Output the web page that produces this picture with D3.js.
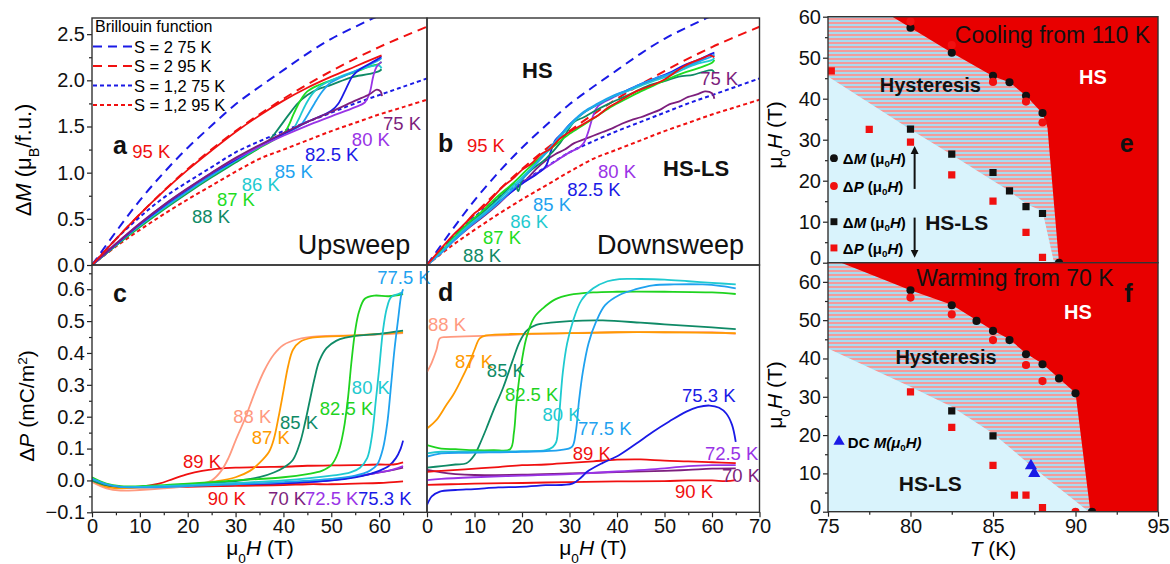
<!DOCTYPE html>
<html lang="en">
<head>
<meta charset="UTF-8">
<title>Spin-state crossover: magnetisation, polarisation and phase diagram</title>
<script src="https://d3js.org/d3.v7.min.js"></script>
<style>
  body { margin: 0; background: #fff; }
  svg { font-family: Arial, "Liberation Sans", sans-serif; }
  .axis line { stroke: #222; stroke-width: 1.2; }
  .axis text { font-size: 20px; fill: #111; }
</style>
</head>
<body>
<svg width="1170" height="564"></svg>
<script>
// ---------- panel a : upsweep dM (field T, muB/f.u.) ----------
var upM75  = [[0,0],[5,0.23],[10,0.45],[15,0.65],[20,0.83],[25,1.00],[30,1.16],[35,1.30],[40,1.43],[45,1.55],[50,1.66],[55,1.78],[58,1.85],[59.5,1.90],[60.3,1.88],[60.6,1.83]];
var upM80  = [[0,0],[5,0.23],[10,0.45],[15,0.65],[20,0.83],[25,1.00],[30,1.15],[35,1.28],[40,1.40],[45,1.51],[50,1.61],[55,1.71],[57,1.76],[58,1.86],[58.8,2.05],[59.5,2.15],[60.5,2.20]];
var upM825 = [[0,0],[5,0.22],[10,0.44],[15,0.64],[20,0.82],[25,0.99],[30,1.14],[35,1.29],[40,1.42],[45,1.55],[50,1.67],[51.5,1.75],[53,1.90],[54.5,2.05],[56,2.12],[58,2.18],[60,2.24],[60.5,2.26]];
var upM85  = [[0,0],[5,0.22],[10,0.43],[15,0.62],[20,0.80],[25,0.97],[30,1.13],[35,1.28],[40,1.42],[43.5,1.51],[45,1.62],[46.5,1.75],[48,1.87],[49.5,1.96],[52,2.03],[55,2.10],[58,2.17],[60,2.22],[60.5,2.24]];
var upM86  = [[0,0],[5,0.22],[10,0.43],[15,0.62],[20,0.80],[25,0.97],[30,1.13],[35,1.28],[40,1.42],[42,1.47],[43,1.56],[44,1.67],[45,1.77],[46,1.85],[47.5,1.93],[50,2.00],[55,2.10],[60,2.16],[60.5,2.13]];
var upM87  = [[0,0],[5,0.21],[10,0.42],[15,0.61],[20,0.79],[25,0.96],[30,1.12],[35,1.27],[40,1.42],[41,1.50],[42,1.62],[43,1.73],[44,1.82],[45,1.88],[47,1.94],[50,2.00],[55,2.09],[58,2.15],[60,2.18],[60.5,2.20]];
var upM88  = [[0,0],[5,0.21],[10,0.41],[15,0.60],[20,0.78],[25,0.95],[30,1.11],[35,1.27],[37,1.35],[39,1.48],[41,1.62],[43,1.75],[45,1.84],[47,1.90],[50,1.95],[54,2.03],[58,2.07],[60,2.10],[60.5,2.12]];
var upM95  = [[0,0],[5,0.28],[10,0.55],[15,0.80],[20,1.03],[25,1.24],[30,1.44],[35,1.62],[40,1.78],[45,1.92],[50,2.04],[55,2.15],[60,2.26],[60.5,2.27]];

// ---------- panel b : downsweep dM ----------
var dnM75  = [[0,0],[3,0.14],[6,0.28],[9,0.41],[12,0.53],[15,0.66],[17,0.76],[19,0.85],[21,0.93],[23,1.04],[25,1.13],[27,1.20],[29,1.25],[31,1.32],[33,1.36],[35,1.40],[37,1.44],[39,1.48],[41,1.53],[43,1.57],[45,1.60],[47,1.64],[49,1.68],[51,1.74],[53,1.77],[55,1.82],[57,1.85],[58.5,1.88],[60,1.86],[60.5,1.80]];
var dnM80  = [[0,0],[3,0.14],[6,0.28],[9,0.42],[12,0.55],[15,0.67],[18,0.80],[21,0.92],[24,1.02],[27,1.12],[30,1.22],[32,1.27],[33,1.32],[34,1.45],[35,1.62],[36,1.72],[39,1.81],[42,1.88],[45,1.95],[48,2.01],[51,2.07],[54,2.14],[57,2.20],[59.5,2.27],[60.5,2.26]];
var dnM825 = [[0,0],[2,0.10],[5,0.24],[8,0.39],[11,0.52],[14,0.64],[17,0.76],[20,0.88],[23,0.98],[25,1.07],[26,1.22],[27,1.35],[28.5,1.43],[30,1.52],[33,1.65],[36,1.74],[39,1.82],[42,1.89],[45,1.96],[48,2.02],[51,2.08],[54,2.16],[57,2.22],[60,2.29],[60.5,2.30]];
var dnM85  = [[0,0],[3,0.13],[6,0.28],[9,0.42],[12,0.54],[15,0.67],[18,0.82],[21,0.98],[24,1.16],[27,1.34],[30,1.52],[33,1.66],[36,1.75],[39,1.83],[42,1.89],[45,1.96],[48,2.02],[51,2.07],[54,2.14],[57,2.20],[60,2.26],[60.5,2.28]];
var dnM86  = [[0,0],[3,0.14],[6,0.30],[9,0.44],[12,0.56],[15,0.70],[18,0.85],[21,1.00],[24,1.15],[27,1.32],[30,1.50],[33,1.65],[36,1.74],[39,1.82],[42,1.88],[45,1.94],[48,2.00],[51,2.05],[54,2.12],[57,2.18],[60,2.22],[60.5,2.24]];
var dnM87  = [[0,0],[3,0.15],[6,0.32],[9,0.47],[12,0.60],[15,0.75],[18,0.88],[21,1.03],[24,1.17],[27,1.30],[30,1.42],[33,1.52],[36,1.62],[39,1.72],[42,1.80],[45,1.88],[48,1.95],[51,2.02],[54,2.08],[57,2.13],[60,2.19],[60.5,2.22]];
var dnM88  = [[0,0],[3,0.14],[6,0.30],[9,0.45],[12,0.58],[15,0.72],[17,0.82],[18.5,0.88],[19.2,0.80],[20,0.92],[22,1.03],[25,1.15],[28,1.32],[31,1.55],[33,1.60],[35,1.66],[38,1.74],[41,1.81],[44,1.88],[47,1.95],[50,1.99],[53,2.04],[56,2.06],[58,2.09],[60,2.11],[60.5,2.08]];
var dnM95  = [[0,0],[2,0.12],[4,0.24],[6,0.35],[8,0.45],[10,0.56],[12,0.63],[14,0.74],[16,0.85],[18,0.93],[20,1.03],[22,1.10],[24,1.20],[26,1.26],[28,1.37],[30,1.44],[32,1.50],[34,1.56],[36,1.62],[38,1.70],[40,1.76],[42,1.82],[44,1.88],[46,1.92],[48,1.96],[50,2.01],[52,2.08],[54,2.15],[56,2.20],[58,2.24],[59.5,2.27],[60.5,2.25]];

// ---------- Brillouin curves ----------
var brS2at75  = [[0,0],[5,0.36],[10,0.70],[15,1.00],[20,1.27],[25,1.51],[30,1.74],[35,1.93],[40,2.11],[45,2.29],[50,2.45],[55,2.58],[60,2.70],[65,2.80]];
var brS2at95  = [[0,0],[10,0.55],[20,1.04],[30,1.45],[40,1.80],[50,2.10],[60,2.36],[70,2.58]];
var brS12at75 = [[0,0],[5,0.28],[10,0.52],[15,0.73],[20,0.90],[25,1.06],[30,1.22],[35,1.34],[40,1.45],[45,1.55],[50,1.65],[55,1.75],[60,1.84],[65,1.93],[70,2.02]];
var brS12at95 = [[0,0],[5,0.20],[10,0.38],[15,0.55],[20,0.71],[25,0.86],[30,1.01],[35,1.15],[40,1.25],[45,1.35],[50,1.45],[55,1.54],[60,1.63],[65,1.71],[70,1.79]];

// ---------- panel c : upsweep dP (mC/m2) ----------
var upP70  = [[0,0],[3,-0.015],[6,-0.02],[10,-0.02],[20,-0.018],[30,-0.014],[40,-0.008],[50,0.002],[55,0.012],[60,0.025],[63,0.033],[65,0.04]];
var upP725 = [[0,0],[3,-0.015],[6,-0.02],[10,-0.02],[20,-0.018],[30,-0.015],[40,-0.01],[50,0],[55,0.012],[60,0.025],[63,0.035],[65,0.045]];
var upP753 = [[0,0],[3,-0.015],[6,-0.02],[10,-0.02],[20,-0.018],[30,-0.015],[40,-0.01],[50,0],[55,0.01],[58,0.02],[60,0.03],[62,0.045],[63.5,0.07],[64.5,0.10],[65,0.125]];
var upP775 = [[0,0.005],[3,-0.012],[6,-0.02],[10,-0.022],[20,-0.018],[30,-0.012],[40,-0.005],[50,0.005],[55,0.015],[58,0.03],[59.6,0.05],[60.8,0.10],[61.7,0.18],[62.5,0.30],[63.2,0.41],[64,0.51],[64.6,0.58],[65,0.60]];
var upP80  = [[0,0.005],[3,-0.012],[6,-0.02],[10,-0.02],[20,-0.015],[30,-0.008],[40,0],[50,0.015],[54,0.025],[56,0.04],[57.5,0.07],[58.5,0.14],[59.3,0.25],[60,0.35],[60.8,0.47],[61.6,0.54],[62.5,0.575],[64,0.585],[65,0.59]];
var upP825 = [[0,0.01],[3,-0.01],[6,-0.018],[10,-0.018],[15,-0.015],[20,-0.01],[30,0],[40,0.01],[45,0.02],[48,0.03],[50,0.048],[51.5,0.09],[52.6,0.16],[53.5,0.26],[54.2,0.37],[55,0.47],[55.8,0.53],[57,0.57],[59,0.58],[62,0.578],[65,0.585]];
var upP85  = [[0,0],[3,-0.015],[6,-0.02],[10,-0.02],[15,-0.018],[20,-0.012],[25,-0.008],[30,-0.002],[35,0.01],[38,0.025],[40,0.04],[42,0.065],[43.5,0.12],[44.5,0.18],[45.5,0.25],[46.5,0.32],[47.5,0.375],[49,0.415],[51,0.438],[53,0.448],[56,0.455],[60,0.46],[65,0.47]];
var upP87  = [[0,0],[3,-0.02],[6,-0.025],[10,-0.022],[15,-0.02],[20,-0.015],[25,-0.005],[30,0.01],[33,0.03],[35,0.055],[37,0.09],[38,0.13],[39,0.20],[40,0.28],[41,0.36],[42,0.41],[43.5,0.435],[46,0.448],[50,0.452],[55,0.455],[60,0.46],[65,0.465]];
var upP88  = [[0,-0.005],[3,-0.025],[6,-0.032],[10,-0.03],[15,-0.025],[20,-0.018],[23,-0.01],[25,0],[27,0.03],[28.5,0.07],[30,0.125],[32,0.195],[34,0.275],[36,0.345],[38,0.395],[40,0.425],[43,0.443],[47,0.452],[55,0.455],[60,0.458],[65,0.462]];
var upP89  = [[0,0],[3,-0.015],[6,-0.022],[10,-0.02],[14,-0.01],[17,0.005],[20,0.02],[23,0.03],[26,0.036],[30,0.04],[35,0.042],[40,0.043],[45,0.046],[50,0.047],[55,0.048],[60,0.05],[63,0.05],[65,0.057]];
var upP90  = [[0,0],[2,-0.01],[5,-0.02],[10,-0.022],[20,-0.02],[30,-0.017],[40,-0.015],[45,-0.012],[50,-0.012],[55,-0.01],[60,-0.008],[63,-0.005],[65,-0.003]];

// ---------- panel d : downsweep dP ----------
var dnP70  = [[0,0.033],[3,0.025],[6,0.02],[10,0.017],[20,0.018],[30,0.022],[40,0.026],[50,0.03],[55,0.033],[60,0.037],[65,0.038]];
var dnP725 = [[0,0.001],[3,0.005],[10,0.01],[20,0.015],[30,0.02],[40,0.028],[50,0.038],[55,0.045],[60,0.048],[65,0.048]];
var dnP753 = [[0,-0.077],[1,-0.05],[2.7,-0.035],[6,-0.03],[10,-0.027],[15,-0.022],[19.5,-0.02],[25,-0.015],[30.6,-0.01],[32.5,0.01],[33.7,0.027],[37,0.055],[40.5,0.08],[44,0.115],[47.6,0.153],[51,0.185],[54.6,0.216],[57,0.23],[59.5,0.235],[61.5,0.228],[63,0.21],[64.2,0.175],[65,0.121]];
var dnP775 = [[0,0.075],[3,0.085],[10,0.087],[20,0.09],[28,0.095],[30.5,0.105],[31.3,0.15],[32,0.25],[32.8,0.34],[34,0.43],[35.6,0.498],[37.5,0.55],[40.5,0.582],[44,0.60],[47.6,0.612],[52,0.615],[58,0.615],[62,0.61],[65,0.603]];
var dnP80  = [[0,0.085],[3,0.09],[10,0.09],[20,0.092],[25,0.095],[26.5,0.105],[27.2,0.12],[27.8,0.20],[28.6,0.34],[29.5,0.43],[30.7,0.498],[32.5,0.565],[35,0.603],[38,0.625],[40.5,0.632],[45,0.632],[50,0.63],[55,0.625],[60,0.62],[65,0.615]];
var dnP825 = [[0,0.111],[3,0.10],[6,0.098],[10,0.095],[14,0.095],[17.5,0.098],[18.3,0.15],[18.8,0.237],[19.6,0.34],[20.9,0.446],[22.5,0.51],[24.4,0.54],[27,0.568],[30,0.582],[35,0.59],[40,0.592],[50,0.592],[60,0.59],[65,0.585]];
var dnP85  = [[0,0.04],[3,0.045],[6,0.05],[8.3,0.054],[10,0.08],[11,0.11],[12.5,0.163],[14,0.22],[16,0.29],[18,0.375],[19.5,0.435],[21,0.47],[23,0.488],[26,0.495],[30,0.50],[37,0.502],[45,0.495],[50,0.49],[55,0.485],[60,0.48],[65,0.475]];
var dnP87  = [[0,0.163],[2,0.19],[4,0.235],[5.5,0.268],[7,0.31],[9,0.373],[10,0.41],[11.1,0.446],[12.5,0.455],[20,0.46],[30,0.462],[40,0.465],[50,0.465],[65,0.462]];
var dnP88  = [[0,0.34],[1,0.37],[2,0.41],[2.7,0.446],[4,0.45],[8,0.452],[15,0.455],[20,0.458],[30,0.462],[40,0.465],[50,0.465],[60,0.465],[65,0.46]];
var dnP89  = [[0,0.027],[3,0.03],[8,0.035],[15,0.042],[20,0.048],[25,0.05],[30,0.055],[35,0.06],[40,0.065],[45,0.066],[50,0.062],[55,0.06],[60,0.057],[65,0.054]];
var dnP90  = [[0,-0.014],[5,-0.012],[10,-0.01],[20,-0.008],[30,-0.005],[40,-0.003],[50,-0.002],[55,0],[60,0],[63,-0.002],[65,0.001]];

// ---------- panels e, f : phase diagram (T in K, field in T) ----------
var coolUpM   = [[80,57.3],[82.5,51.2],[85,45.6],[86,44],[87,40.7],[88,36.5],[89,0]];
var coolUpP   = [[80,58.8],[82.5,53.1],[85,44.1],[87,39.3],[88,34.2]];
var coolDownM = [[80,32.6],[82.5,26.5],[85,22],[86,17.5],[87,13.7],[88,12]];
var coolDownP = [[75.2,46.8],[77.5,32.5],[80,29.4],[82.5,21.4],[85,15],[87,7.4],[88,1.3]];
var coolHsEdge = [[78.9,60],[80,57.3],[82.5,51.2],[85,45.5],[86,44],[87,40.7],[88,36.4],[88.3,33],[89,0]];
var coolLsEdge = [[75,45.4],[80,32.5],[82.5,26.3],[85,20],[86,17.5],[87,14.3],[88,12.6],[88.7,0]];

var warmUpM   = [[80,57.8],[82.5,53.9],[84,49.8],[85,47.2],[86,44.8],[87,41.1],[88,38.5],[89,34.8],[90,30.9],[91,0]];
var warmUpP   = [[80,55.9],[82.5,51.5],[85,44.8],[87,38.3],[88,34.1],[90,0]];
var warmDownM = [[82.5,26.3],[85,19.8]];
var warmDownP = [[80,31.3],[82.5,22],[85,12.1],[86.3,4.3],[87,4.3],[88,1.1]];
var warmDC    = [[87.3,12],[87.5,10]];
var warmHsEdge = [[75.8,65],[80,57.8],[82.5,54],[84,50],[85,47.3],[86,45],[87,41.3],[88,38.6],[89,34.8],[90,31],[90.9,0]];
var warmLsEdge = [[75,42.6],[80,32.6],[82.5,27.4],[85,20.4],[87.4,11.7],[90.8,0]];

var fieldTicks = [0, 10, 20, 30, 40, 50, 60, 70];
var tempTicks  = [75, 80, 85, 90, 95];

// colours per temperature ("a" suffix = magnetisation panels)
var col = {
  "70": "#7d1f7d", "72.5": "#9933e6", "75": "#7d1f7d", "75.3": "#1a1ae6", "77.5": "#1fa2ef",
  "80a": "#9933e6", "80": "#1fcad0", "82.5a": "#1a1ae6", "82.5": "#1fd31f", "85a": "#1fa2ef",
  "85": "#0f8a66", "86": "#1fcad0", "87a": "#1fdc1f", "87": "#ff9a00", "88a": "#0f8a66",
  "88": "#ff9a80", "89": "#f01010", "90": "#f01010", "95": "#f01010"
};

var svg = d3.select("svg");
var defs = svg.append("defs");

var hatch = defs.append("pattern").attr("id", "hatch")
  .attr("patternUnits", "userSpaceOnUse").attr("width", 8).attr("height", 4);
hatch.append("rect").attr("width", 8).attr("height", 4).attr("fill", "#f39b9b");
hatch.append("rect").attr("width", 8).attr("height", 2).attr("fill", "#a9dcf0");

function panel(id, x0, x1, y0, y1, xd, yd) {
  var x = d3.scaleLinear().domain(xd).range([x0, x1]);
  var y = d3.scaleLinear().domain(yd).range([y1, y0]);
  defs.append("clipPath").attr("id", "clip-" + id)
    .append("rect").attr("x", x0).attr("y", y0).attr("width", x1 - x0).attr("height", y1 - y0);
  var g = svg.append("g").attr("clip-path", "url(#clip-" + id + ")");
  return { x: x, y: y, g: g, x0: x0, x1: x1, y0: y0, y1: y1 };
}

function curve(p, data, colour, width, dash) {
  var line = d3.line().x(function (d) { return p.x(d[0]); }).y(function (d) { return p.y(d[1]); })
    .curve(d3.curveCatmullRom.alpha(0.5));
  p.g.append("path").datum(data).attr("d", line)
    .attr("fill", "none").attr("stroke", colour).attr("stroke-width", width || 1.8)
    .attr("stroke-dasharray", dash || null).attr("stroke-linejoin", "round");
}

function ticks(p, side, values, size, fmt) {
  var ax = side === "left" ? d3.axisLeft(p.y) : d3.axisBottom(p.x);
  ax.tickValues(values).tickSize(size).tickPadding(2).tickFormat(fmt || function () { return ""; });
  var g = svg.append("g").attr("class", "axis")
    .attr("transform", side === "left" ? "translate(" + p.x0 + ",0)" : "translate(0," + p.y1 + ")")
    .call(ax);
  g.select(".domain").remove();
  return g;
}

function frame(p) {
  svg.append("rect").attr("x", p.x0).attr("y", p.y0).attr("width", p.x1 - p.x0).attr("height", p.y1 - p.y0)
    .attr("fill", "none").attr("stroke", "#333").attr("stroke-width", 1.4);
}

// rich text: parts = [[text, kind]] with kind "", "i", "sub", "sup"
function rich(sel, parts) {
  parts.forEach(function (pt) {
    var t = sel.append("tspan").text(pt[0]);
    if (pt[1] === "i") t.attr("font-style", "italic");
    if (pt[1] === "sub") t.attr("baseline-shift", "sub").attr("font-size", "65%");
    if (pt[1] === "sup") t.attr("baseline-shift", "super").attr("font-size", "65%");
  });
  return sel;
}

function label(p, pos, txt, colour, size, weight, anchor) {
  return svg.append("text").attr("x", p.x(pos[0])).attr("y", p.y(pos[1]))
    .attr("dominant-baseline", "central").attr("text-anchor", anchor || "start")
    .attr("font-size", size || 18.5).attr("font-weight", weight || "normal")
    .attr("fill", colour || "#111").text(txt);
}

var fmt1 = d3.format(".1f");
var minorM = d3.range(0.25, 2.6, 0.5);
var minorP = d3.range(-0.05, 0.66, 0.1);
var minorH = d3.range(5, 70, 10);

// ================= panel a =================
var A = panel("a", 92, 427, 18, 265, [0, 70], [0, 2.675]);
curve(A, brS2at75, "#1a1ae6", 2, "9,6");
curve(A, brS2at95, "#f01010", 2, "9,6");
curve(A, brS12at75, "#1a1ae6", 2, "4,3");
curve(A, brS12at95, "#f01010", 2, "4,3");
[[upM88, "88a"], [upM87, "87a"], [upM86, "86"], [upM85, "85a"], [upM825, "82.5a"], [upM80, "80a"], [upM75, "75"], [upM95, "95"]]
  .forEach(function (c) { curve(A, c[0], col[c[1]]); });
ticks(A, "left", d3.range(0, 2.51, 0.5), 5, fmt1);
ticks(A, "left", minorM, 3);
frame(A);

// legend
var legRows = [["S = 2 75 K", "#1a1ae6", "9,6"], ["S = 2 95 K", "#f01010", "9,6"], ["S = 1,2 75 K", "#1a1ae6", "4,3"], ["S = 1,2 95 K", "#f01010", "4,3"]];
svg.append("text").attr("x", 95).attr("y", 26).attr("dominant-baseline", "central").attr("font-size", 16).text("Brillouin function");
legRows.forEach(function (r, i) {
  var yy = 46.5 + i * 19.5;
  svg.append("line").attr("x1", 93).attr("x2", 132).attr("y1", yy).attr("y2", yy)
    .attr("stroke", r[1]).attr("stroke-width", 2).attr("stroke-dasharray", r[2]);
  svg.append("text").attr("x", 134).attr("y", yy).attr("dominant-baseline", "central").attr("font-size", 16.5).text(r[0]);
});

label(A, [4.4, 1.30], "a", "#111", 25, "bold");
label(A, [8.4, 1.224], "95 K", col["95"]);
label(A, [60.8, 1.528], "75 K", col["75"]);
label(A, [54.3, 1.354], "80 K", col["80a"]);
label(A, [44.5, 1.192], "82.5 K", col["82.5a"]);
label(A, [38.2, 1.008], "85 K", col["85a"]);
label(A, [31.3, 0.867], "86 K", col["86"]);
label(A, [26.1, 0.704], "87 K", col["87a"]);
label(A, [20.9, 0.52], "88 K", col["88a"]);
label(A, [43, 0.217], "Upsweep", "#111", 27);

// ================= panel b =================
var B = panel("b", 427, 759.5, 18, 265, [0, 70], [0, 2.675]);
curve(B, brS2at75, "#1a1ae6", 2, "9,6");
curve(B, brS2at95, "#f01010", 2, "9,6");
curve(B, brS12at75, "#1a1ae6", 2, "4,3");
curve(B, brS12at95, "#f01010", 2, "4,3");
[[dnM75, "75"], [dnM80, "80a"], [dnM825, "82.5a"], [dnM88, "88a"], [dnM87, "87a"], [dnM86, "86"], [dnM85, "85a"], [dnM95, "95"]]
  .forEach(function (c) { curve(B, c[0], col[c[1]]); });
frame(B);
label(B, [2.3, 1.32], "b", "#111", 25, "bold");
label(B, [8.4, 1.29], "95 K", col["95"]);
label(B, [57.5, 2.015], "75 K", col["75"]);
label(B, [36, 1.008], "80 K", col["80a"]);
label(B, [29.5, 0.813], "82.5 K", col["82.5a"]);
label(B, [22.3, 0.65], "85 K", col["85a"]);
label(B, [17.5, 0.466], "86 K", col["86"]);
label(B, [11.8, 0.293], "87 K", col["87a"]);
label(B, [7.6, 0.108], "88 K", col["88a"]);
label(B, [20, 2.11], "HS", "#111", 22, "bold");
label(B, [49.7, 1.05], "HS-LS", "#111", 22, "bold");
label(B, [35.8, 0.217], "Downsweep", "#111", 27);

// ================= panel c =================
var C = panel("c", 92, 427, 265, 512.3, [0, 70], [-0.1, 0.676]);
[[upP70, "70"], [upP725, "72.5"], [upP753, "75.3"], [upP90, "90"], [upP89, "89"], [upP88, "88"], [upP87, "87"], [upP85, "85"], [upP825, "82.5"], [upP80, "80"], [upP775, "77.5"]]
  .forEach(function (c) { curve(C, c[0], col[c[1]]); });
ticks(C, "left", d3.range(-0.1, 0.61, 0.1).map(function (v) { return +v.toFixed(2); }), 5, fmt1);
ticks(C, "left", minorP, 3);
ticks(C, "bottom", fieldTicks.slice(0, 7), 5, d3.format("d"));
ticks(C, "bottom", minorH, 3);
frame(C);
label(C, [4.4, 0.588], "c", "#111", 25, "bold");
label(C, [59.6, 0.638], "77.5 K", col["77.5"]);
label(C, [54.3, 0.293], "80 K", col["80"]);
label(C, [47.6, 0.227], "82.5 K", col["82.5"]);
label(C, [39.3, 0.183], "85 K", col["85"]);
label(C, [29.5, 0.202], "88 K", col["88"]);
label(C, [33.4, 0.136], "87 K", col["87"]);
label(C, [19, 0.058], "89 K", col["89"]);
label(C, [24.2, -0.058], "90 K", col["90"]);
label(C, [36.8, -0.058], "70 K", col["70"]);
label(C, [44.5, -0.058], "72.5 K", col["72.5"]);
label(C, [55.6, -0.058], "75.3 K", col["75.3"]);

// ================= panel d =================
var D = panel("d", 427, 759.5, 265, 512.3, [0, 70], [-0.1, 0.676]);
[[dnP70, "70"], [dnP725, "72.5"], [dnP90, "90"], [dnP89, "89"], [dnP753, "75.3"], [dnP88, "88"], [dnP87, "87"], [dnP85, "85"], [dnP825, "82.5"], [dnP80, "80"], [dnP775, "77.5"]]
  .forEach(function (c) { curve(D, c[0], col[c[1]]); });
ticks(D, "bottom", fieldTicks, 5, d3.format("d"));
ticks(D, "bottom", minorH, 3);
frame(D);
label(D, [2.3, 0.59], "d", "#111", 25, "bold");
label(D, [0.2, 0.488], "88 K", col["88"]);
label(D, [5.9, 0.372], "87 K", col["87"]);
label(D, [12.6, 0.345], "85 K", col["85"]);
label(D, [16.4, 0.27], "82.5 K", col["82.5"]);
label(D, [24.3, 0.208], "80 K", col["80"]);
label(D, [31.8, 0.163], "77.5 K", col["77.5"]);
label(D, [53.7, 0.268], "75.3 K", col["75.3"]);
label(D, [30.7, 0.086], "89 K", col["89"]);
label(D, [58.5, 0.086], "72.5 K", col["72.5"]);
label(D, [62.1, 0.017], "70 K", col["70"]);
label(D, [52.2, -0.036], "90 K", col["90"]);

// axis titles a-d
rich(svg.append("text").attr("transform", "translate(31,160) rotate(-90)").attr("text-anchor", "middle")
  .attr("font-size", 22), [["\u0394", ""], ["M", "i"], [" (\u03bc", ""], ["B", "sub"], ["/f.u.)", ""]]);
rich(svg.append("text").attr("transform", "translate(34,406) rotate(-90)").attr("text-anchor", "middle")
  .attr("font-size", 21), [["\u0394", ""], ["P", "i"], [" (mC/m", ""], ["2", "sup"], [")", ""]]);
[260, 593].forEach(function (cx) {
  rich(svg.append("text").attr("x", cx).attr("y", 555).attr("text-anchor", "middle").attr("font-size", 21),
    [["\u03bc", ""], ["0", "sub"], ["H", "i"], [" (T)", ""]]);
});

// ================= panels e, f =================
function phase(p, hsEdge, lsEdge, top) {
  p.g.append("rect").attr("x", p.x0).attr("y", p.y0).attr("width", p.x1 - p.x0).attr("height", p.y1 - p.y0).attr("fill", "url(#hatch)");
  var ls = [[75, 0]].concat(lsEdge);
  p.g.append("path").attr("d", d3.line().x(function (d) { return p.x(d[0]); }).y(function (d) { return p.y(d[1]); })(ls) + "Z")
    .attr("fill", "#d9f3fc");
  var hs = hsEdge.concat([[95, 0], [95, top]]);
  p.g.append("path").attr("d", d3.line().x(function (d) { return p.x(d[0]); }).y(function (d) { return p.y(d[1]); })(hs) + "Z")
    .attr("fill", "#e80000");
}
function dots(p, data, colour, shape, size) {
  var sym = d3.symbol().type(shape).size(size);
  p.g.selectAll(null).data(data).enter().append("path")
    .attr("transform", function (d) { return "translate(" + p.x(d[0]) + "," + p.y(d[1]) + ")"; })
    .attr("d", sym).attr("fill", colour);
}

var E = panel("e", 828, 1158, 16.7, 262.7, [75, 95], [0, 60]);
phase(E, coolHsEdge, coolLsEdge, 60);
dots(E, coolDownP, "#f01010", d3.symbolSquare, 52);
dots(E, coolDownM, "#111", d3.symbolSquare, 52);
dots(E, coolUpM, "#111", d3.symbolCircle, 52);
dots(E, coolUpP, "#f01010", d3.symbolCircle, 52);
ticks(E, "left", [0, 10, 20, 30, 40, 50, 60], 5, d3.format("d"))
  .selectAll("text").filter(function (d) { return d === 0; }).attr("dy", "0.1em");
ticks(E, "left", [5, 15, 25, 35, 45, 55], 3);
frame(E);

var F = panel("f", 828, 1158, 262.7, 511.7, [75, 95], [0, 65]);
phase(F, warmHsEdge, warmLsEdge, 65);
dots(F, warmDownP, "#f01010", d3.symbolSquare, 52);
dots(F, warmDownM, "#111", d3.symbolSquare, 52);
dots(F, warmUpM, "#111", d3.symbolCircle, 52);
dots(F, warmUpP, "#f01010", d3.symbolCircle, 52);
dots(F, warmDC, "#1a1ae6", d3.symbolTriangle, 64);
ticks(F, "left", [0, 10, 20, 30, 40, 50, 60], 5, d3.format("d"))
  .selectAll("text").filter(function (d) { return d === 0; }).attr("dy", "0.1em");
ticks(F, "left", [5, 15, 25, 35, 45, 55], 3);
ticks(F, "bottom", tempTicks, 5, d3.format("d"));
ticks(F, "bottom", [77.5, 82.5, 87.5, 92.5], 3);
frame(F);

// e annotations
label(E, [88.6, 55.5], "Cooling from 110 K", "#111", 23, "normal", "middle");
label(E, [91.06, 45.3], "HS", "#fff", 20, "bold", "middle");
label(E, [93.1, 29.2], "e", "#111", 25, "bold", "middle");
label(E, [81.2, 43.3], "Hysteresis", "#111", 20, "bold", "middle");
label(E, [82.8, 9.7], "HS-LS", "#111", 21, "bold", "middle");
var legE = [[25.5, "#111", d3.symbolCircle, "M"], [18.7, "#f01010", d3.symbolCircle, "P"], [10, "#111", d3.symbolSquare, "M"], [3.6, "#f01010", d3.symbolSquare, "P"]];
legE.forEach(function (r) {
  svg.append("path").attr("transform", "translate(" + E.x(75.36) + "," + E.y(r[0]) + ")")
    .attr("d", d3.symbol().type(r[2]).size(48)).attr("fill", r[1]);
  rich(svg.append("text").attr("x", E.x(75.9)).attr("y", E.y(r[0])).attr("dominant-baseline", "central")
    .attr("font-size", 15).attr("font-weight", "bold"),
    [["\u0394", ""], [r[3], "i"], [" (\u03bc", ""], ["0", "sub"], ["H", "i"], [")", ""]]);
});
defs.append("marker").attr("id", "head").attr("viewBox", "0 0 10 10").attr("refX", 5).attr("refY", 5)
  .attr("markerWidth", 4).attr("markerHeight", 5).attr("orient", "auto")
  .append("path").attr("d", "M0,0 L10,5 L0,10 Z").attr("fill", "#111");
[[18, 27.5], [11, 2.2]].forEach(function (a) {
  svg.append("line").attr("x1", E.x(80.25)).attr("x2", E.x(80.25)).attr("y1", E.y(a[0])).attr("y2", E.y(a[1]))
    .attr("stroke", "#111").attr("stroke-width", 2).attr("marker-end", "url(#head)");
});

// f annotations
label(F, [86.33, 61], "Warming from 70 K", "#111", 23, "normal", "middle");
label(F, [93.2, 57], "f", "#111", 25, "bold", "middle");
label(F, [90.15, 52.1], "HS", "#fff", 20, "bold", "middle");
label(F, [82.15, 40.4], "Hysteresis", "#111", 20, "bold", "middle");
label(F, [81.2, 7.4], "HS-LS", "#111", 21, "bold", "middle");
svg.append("path").attr("transform", "translate(" + F.x(75.67) + "," + F.y(18.3) + ")")
  .attr("d", d3.symbol().type(d3.symbolTriangle).size(55)).attr("fill", "#1a1ae6");
rich(svg.append("text").attr("x", F.x(76.2)).attr("y", F.y(18.3)).attr("dominant-baseline", "central")
  .attr("font-size", 15).attr("font-weight", "bold"),
  [["DC ", ""], ["M", "i"], ["(\u03bc", "i"], ["0", "sub"], ["H", "i"], [")", "i"]]);

// e, f axis titles
[[E, 135], [F, 395]].forEach(function (r) {
  rich(svg.append("text").attr("transform", "translate(782," + r[1] + ") rotate(-90)").attr("text-anchor", "middle")
    .attr("font-size", 21), [["\u03bc", ""], ["0", "sub"], ["H", "i"], [" (T)", ""]]);
});
rich(svg.append("text").attr("x", 993).attr("y", 556).attr("text-anchor", "middle").attr("font-size", 21),
  [["T", "i"], [" (K)", ""]]);
</script>
</body>
</html>
